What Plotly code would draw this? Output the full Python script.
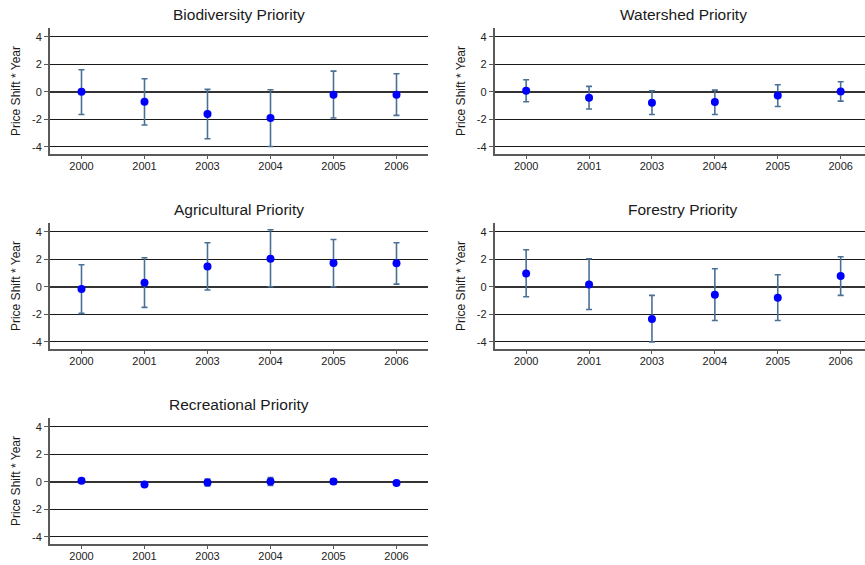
import plotly.graph_objects as go

# Survey years (categorical x axis)
years = ["2000", "2001", "2003", "2004", "2005", "2006"]

# Point estimates and 95% confidence bounds for each priority
bio_est = [0.00, -0.73, -1.62, -1.91, -0.22, -0.22]
bio_lo = [-1.65, -2.42, -3.42, -3.98, -1.91, -1.72]
bio_hi = [1.60, 0.95, 0.17, 0.15, 1.50, 1.31]

wat_est = [0.07, -0.44, -0.80, -0.75, -0.27, 0.02]
wat_lo = [-0.73, -1.26, -1.65, -1.65, -1.07, -0.68]
wat_hi = [0.87, 0.39, 0.07, 0.12, 0.51, 0.73]

agr_est = [-0.17, 0.29, 1.48, 2.04, 1.72, 1.70]
agr_lo = [-1.94, -1.50, -0.24, 0.00, 0.00, 0.19]
agr_hi = [1.60, 2.11, 3.20, 4.15, 3.44, 3.20]

for_est = [0.97, 0.17, -2.35, -0.58, -0.80, 0.78]
for_lo = [-0.73, -1.65, -4.02, -2.45, -2.45, -0.63]
for_hi = [2.69, 2.04, -0.63, 1.31, 0.87, 2.18]

rec_est = [0.07, -0.20, -0.05, 0.02, 0.02, -0.10]
rec_lo = [-0.08, -0.30, -0.30, -0.27, -0.16, -0.18]
rec_hi = [0.22, -0.10, 0.20, 0.30, 0.20, -0.02]

titles = ["Biodiversity Priority", "Watershed Priority", "Agricultural Priority",
          "Forestry Priority", "Recreational Priority"]
y_ticks = [-4, -2, 0, 2, 4]
y_tick_text = ["-4", "-2", "0", "2", "4"]
y_title = "Price Shift * Year"

panels = [
    (bio_est, bio_lo, bio_hi),
    (wat_est, wat_lo, wat_hi),
    (agr_est, agr_lo, agr_hi),
    (for_est, for_lo, for_hi),
    (rec_est, rec_lo, rec_hi),
]

W, H = 865, 565
FONT = "Liberation Sans, Arial, sans-serif"

# Panel geometry in pixels (left, right, top, bottom)
col_px = [(50.0, 428.0), (494.7, 865.0)]
row_px = [(27.8, 154.3), (222.8, 349.3), (417.8, 544.3)]
x_ranges = [[-0.5, 5.5], [-0.5, 5.387]]
title_cx = [239.0, 683.0]
ylab_x = [16.0, 461.0]

fig = go.Figure()
annotations = []
layout_axes = {}

for i, ((est, lo, hi), title) in enumerate(zip(panels, titles)):
    r, c = divmod(i, 2)
    n = i + 1
    xa = "x" if n == 1 else f"x{n}"
    ya = "y" if n == 1 else f"y{n}"
    up = [h - e for h, e in zip(hi, est)]
    dn = [e - l for e, l in zip(est, lo)]
    fig.add_trace(go.Scatter(
        x=years, y=est, mode="markers", xaxis=xa, yaxis=ya,
        marker=dict(color="#0000ff", size=8),
        error_y=dict(type="data", symmetric=False, array=up, arrayminus=dn,
                     color="#4a7098", thickness=1.6, width=3),
        showlegend=False,
    ))
    x0, x1 = col_px[c]
    t, b = row_px[r]
    layout_axes["xaxis" if n == 1 else f"xaxis{n}"] = dict(
        domain=[x0 / W, x1 / W], anchor=ya, type="category",
        range=x_ranges[c], showgrid=False, zeroline=False,
        showline=True, linecolor="#5a5a5a", linewidth=1.8,
        ticks="outside", ticklen=3, tickcolor="#5a5a5a", tickwidth=1,
        ticklabelstandoff=-2,
        tickfont=dict(family=FONT, size=11, color="#222"),
        fixedrange=True,
    )
    layout_axes["yaxis" if n == 1 else f"yaxis{n}"] = dict(
        domain=[1 - b / H, 1 - t / H], anchor=xa,
        range=[-4.55, 4.65], tickvals=y_ticks, ticktext=y_tick_text,
        showgrid=True, gridcolor="#1a1a1a", gridwidth=1.1,
        zeroline=True, zerolinecolor="#333333", zerolinewidth=2.2,
        showline=True, linecolor="#5a5a5a", linewidth=1.8,
        ticks="outside", ticklen=4, tickcolor="#5a5a5a", tickwidth=1,
        tickfont=dict(family=FONT, size=11, color="#222"),
        fixedrange=True,
    )
    annotations.append(dict(
        text=title, x=title_cx[c] / W, y=1 - (t - 13) / H,
        xref="paper", yref="paper", xanchor="center", yanchor="middle",
        showarrow=False, font=dict(family=FONT, size=15.5, color="#1a1a1a"),
    ))
    annotations.append(dict(
        text=y_title, x=ylab_x[c] / W, y=1 - ((t + b) / 2) / H,
        xref="paper", yref="paper", xanchor="center", yanchor="middle",
        textangle=-90, showarrow=False,
        font=dict(family=FONT, size=12, color="#1a1a1a"),
    ))

fig.update_layout(
    width=W, height=H,
    margin=dict(l=0, r=0, t=0, b=0),
    paper_bgcolor="white", plot_bgcolor="white",
    annotations=annotations,
    **layout_axes,
)

fig.write_html("out.html", config={"displayModeBar": False})
